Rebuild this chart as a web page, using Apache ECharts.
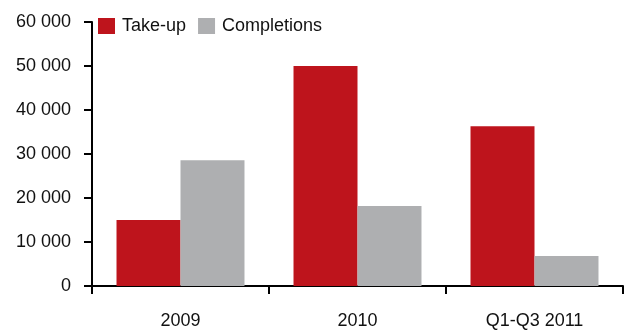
<!DOCTYPE html>
<html>
<head>
<meta charset="utf-8">
<script src="https://cdn.jsdelivr.net/npm/echarts@6/dist/echarts.min.js"></script>
<style>
  html, body { margin: 0; padding: 0; background: #fff; }
  #chart { width: 625px; height: 333px; }
</style>
</head>
<body>
<div id="chart"></div>
<script>
// Office market volumes (m²)
const categories = ['2009', '2010', 'Q1-Q3 2011'];
const takeUp = [15000, 50000, 36300];
const completions = [28600, 18200, 6800];
const seriesNames = ['Take-up', 'Completions'];

const FONT = '"Liberation Sans", Arial, sans-serif';

// Thousands with a space separator, e.g. 60 000
function fmt(v) {
  return String(v).replace(/\B(?=(\d{3})+(?!\d))/g, ' ');
}

const chart = echarts.init(document.getElementById('chart'), null, { renderer: 'canvas' });
chart.setOption({
  animation: false,
  backgroundColor: '#ffffff',
  textStyle: { fontFamily: FONT },
  grid: { left: 92, right: 2, top: 22, bottom: 47, containLabel: false },
  legend: {
    left: 98,
    top: 17,
    padding: 0,
    itemWidth: 17,
    itemHeight: 16,
    itemGap: 12,
    icon: 'rect',
    textStyle: { fontFamily: FONT, fontSize: 18, color: '#111', padding: [0, 0, 0, 2] },
    data: seriesNames
  },
  xAxis: {
    type: 'category',
    data: categories,
    axisLine: { lineStyle: { color: '#000', width: 2 } },
    axisTick: { show: true, length: 8, lineStyle: { color: '#000', width: 2 } },
    axisLabel: { fontFamily: FONT, fontSize: 18, color: '#111', margin: 26 }
  },
  yAxis: {
    type: 'value',
    min: 0,
    max: 60000,
    interval: 10000,
    splitLine: { show: false },
    axisLine: { show: true, lineStyle: { color: '#000', width: 2 } },
    axisTick: { show: true, length: 8, lineStyle: { color: '#000', width: 2 } },
    axisLabel: { fontFamily: FONT, fontSize: 18, color: '#111', margin: 21, formatter: fmt }
  },
  series: [
    {
      name: seriesNames[0],
      type: 'bar',
      data: takeUp,
      barGap: '0%',
      barCategoryGap: '27.7%',
      itemStyle: { color: '#BE141C' }
    },
    {
      name: seriesNames[1],
      type: 'bar',
      data: completions,
      barGap: '0%',
      barCategoryGap: '27.7%',
      itemStyle: { color: '#AEAFB1' }
    }
  ]
});
</script>
</body>
</html>
